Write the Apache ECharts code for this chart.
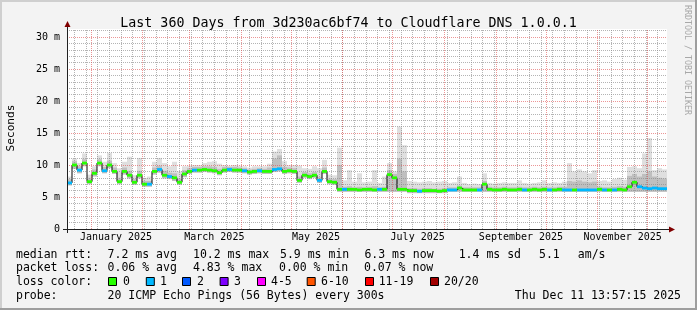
<!DOCTYPE html>
<html><head><meta charset="utf-8">
<script src="https://cdn.jsdelivr.net/npm/echarts@6/dist/echarts.min.js"></script>
<style>html,body{margin:0;padding:0;background:#f3f3f3}#c{width:697px;height:310px}</style>
</head><body><div id="c"></div><script>
// 3-day buckets from mid-Dec 2024 to mid-Dec 2025 (values in ms)
const median = [
 7.2,10.0,9.2,10.3,7.4,8.7,10.3,9.1,10.0,9.0,
 7.4,9.0,8.4,7.3,8.4,7.0,7.0,9.0,9.3,8.4,
 8.2,8.0,7.3,8.6,9.0,9.2,9.2,9.3,9.2,9.1,
 8.8,9.2,9.3,9.2,9.2,9.1,8.9,9.0,9.1,9.0,
 9.0,9.3,9.4,9.0,9.1,9.0,7.6,8.4,8.2,8.4,
 7.6,9.0,7.4,7.3,6.2,6.2,6.2,6.2,6.1,6.2,
 6.2,6.1,6.2,6.2,8.5,8.0,6.2,6.2,6.0,6.0,
 5.9,6.0,6.0,6.0,5.9,6.0,6.1,6.1,6.4,6.1,
 6.1,6.1,6.1,7.0,6.2,6.1,6.1,6.2,6.1,6.1,
 6.2,6.1,6.1,6.2,6.1,6.2,6.1,6.1,6.2,6.1,
 6.1,6.1,6.1,6.1,6.1,6.1,6.2,6.1,6.1,6.1,
 6.2,6.1,6.6,7.3,6.6,6.4,6.3,6.4,6.3,6.3];
const smokeHigh = [
 8.2,11.0,10.3,11.8,8.5,9.8,11.5,10.5,11.9,10.3,
 9.5,10.5,11.3,8.4,11.1,8.0,8.2,10.5,11.1,10.3,
 9.8,10.5,9.0,9.8,9.9,10.0,10.0,10.3,10.5,10.6,
 10.2,10.0,9.9,10.0,9.9,9.8,9.6,9.8,9.8,9.8,
 10.2,12.1,12.5,10.6,10.0,10.0,9.9,9.5,9.4,9.8,
 9.5,10.8,8.5,8.4,12.7,7.6,9.2,7.4,8.7,7.3,
 7.4,9.2,7.2,8.2,10.3,9.0,16.0,13.1,7.5,7.4,
 7.3,7.4,7.5,7.3,7.4,7.5,7.2,7.3,8.2,7.2,
 7.0,7.1,7.0,8.7,7.2,7.1,7.2,7.3,7.2,7.2,
 7.6,7.2,7.1,7.2,7.3,7.6,7.2,7.3,7.2,7.4,
 10.3,9.0,9.3,9.0,8.7,9.2,7.5,7.6,7.4,7.8,
 8.0,7.7,9.7,9.8,9.5,11.8,14.2,9.2,9.5,9.3];
const smokeDark = [
 7.8,10.6,9.8,10.9,8.0,9.3,10.9,9.7,10.7,9.6,
 8.0,9.6,9.1,7.8,9.1,7.5,7.5,9.6,9.9,9.1,
 8.8,8.7,7.9,9.2,9.5,9.7,9.7,9.8,9.8,9.7,
 9.4,9.7,9.7,9.7,9.6,9.5,9.3,9.4,9.5,9.4,
 9.6,11.0,11.5,9.7,9.6,9.5,8.2,8.9,8.7,8.9,
 8.1,9.6,7.9,7.8,10.0,6.6,6.7,6.5,6.6,6.5,
 6.6,6.7,6.5,6.6,9.2,8.6,11.0,9.0,6.4,6.4,
 6.3,6.4,6.4,6.3,6.3,6.4,6.5,6.5,6.8,6.5,
 6.5,6.5,6.5,7.5,6.6,6.5,6.5,6.6,6.5,6.5,
 6.6,6.5,6.5,6.6,6.5,6.6,6.5,6.5,6.6,6.6,
 7.5,7.4,7.6,7.4,7.3,7.4,6.6,6.5,6.5,6.6,
 6.7,6.6,8.3,8.6,8.2,8.6,9.0,8.2,8.0,7.9];
const smokeLow = [
 6.8,9.4,8.7,9.8,7.0,8.2,9.8,8.7,9.5,8.6,
 7.0,8.5,7.9,6.9,7.9,6.6,6.6,8.5,8.8,7.9,
 7.8,7.5,6.9,8.1,8.6,8.8,8.8,8.9,8.8,8.7,
 8.4,8.8,8.9,8.8,8.8,8.7,8.5,8.6,8.7,8.6,
 8.6,8.9,9.0,8.6,8.7,8.6,7.2,8.0,7.8,8.0,
 7.2,8.6,7.0,6.9,5.8,5.8,5.8,5.8,5.8,5.8,
 5.8,5.8,5.8,5.8,5.8,5.8,5.8,5.8,5.6,5.6,
 5.6,5.6,5.6,5.6,5.6,5.6,5.8,5.8,5.8,5.8,
 5.8,5.8,5.8,5.8,5.8,5.8,5.8,5.8,5.8,5.8,
 5.8,5.8,5.8,5.8,5.8,5.8,5.8,5.8,5.8,5.8,
 5.8,5.8,5.8,5.8,5.8,5.8,5.8,5.8,5.8,5.8,
 5.8,5.8,5.8,5.8,5.8,5.8,5.8,5.8,5.8,5.8];
const lossIdx = [
 1,0,1,0,0,0,0,1,0,0, 0,0,0,0,0,0,1,0,1,0, 1,0,0,0,0,1,0,0,0,0,
 0,0,1,0,0,1,0,0,1,0, 0,1,1,0,0,0,0,0,0,0, 1,0,0,0,0,1,0,0,0,0,
 0,0,1,0,0,0,0,0,0,0, 1,0,0,0,0,0,1,1,0,0, 0,0,1,0,0,0,0,0,0,0,
 0,1,0,0,0,0,1,0,0,1, 1,0,1,1,1,1,0,1,0,1, 0,0,0,0,1,1,1,1,1,1];
const lossColors = ['#26ff00','#00b8ff','#0059ff','#7e00ff','#ff00ff','#ff5500','#ff0000','#a10000'];
const lossLabels = ['0','1','2','3','4-5','6-10','11-19','20/20'];
// time axis in days since 2025-01-01
const monthStarts = [0,31,59,90,120,151,181,212,243,273,304,334];
const monthLabelDays = [15,74,135,196,258,319];
const monthLabelText = ['January 2025','March 2025','May 2025','July 2025','September 2025','November 2025'];
const firstSunday = -10;
const xMin = -14.4, xMax = 345.6;
const yMax = 31.25;
const yTicks = [0,5,10,15,20,25,30];

const categories = median.map((_, i) => String(i));
const labelMap = {};
monthLabelDays.forEach((d, i) => labelMap[d] = monthLabelText[i]);

const grayLine = {color: 'rgba(140,140,140,0.65)', type: [1,1], width: 1};
const redLine = {color: 'rgba(224,80,80,0.6)', type: [1,1], width: 1};
const ml = [];
for (let d = firstSunday; d < xMax; d += 7) ml.push({xAxis: d, lineStyle: grayLine});
for (let v = 1; v < yMax; v++) if (v % 5) ml.push({yAxis: v, lineStyle: grayLine});
monthStarts.forEach(d => ml.push({xAxis: d, lineStyle: redLine}));
yTicks.slice(1).forEach(v => ml.push({yAxis: v, lineStyle: redLine}));

const L = 67, T = 29, W = 600, H = 200;
const mono = '"DejaVu Sans Mono", monospace';
const lf = '11.5px ' + mono;
const barCommon = {type: 'bar', barGap: '-100%', barCategoryGap: '0%', xAxisIndex: 0, yAxisIndex: 0, silent: true};

const graphic = [
  {type: 'rect', shape: {x: 0, y: 0, width: 697, height: 2}, style: {fill: '#cfcfcf'}},
  {type: 'rect', shape: {x: 0, y: 0, width: 2, height: 310}, style: {fill: '#cfcfcf'}},
  {type: 'rect', shape: {x: 695, y: 0, width: 2, height: 310}, style: {fill: '#9e9e9e'}},
  {type: 'rect', shape: {x: 0, y: 308, width: 697, height: 2}, style: {fill: '#9e9e9e'}},
  {type: 'line', shape: {x1: L - 4, y1: T + H + 0.5, x2: L + W + 3, y2: T + H + 0.5}, style: {stroke: '#202020', lineWidth: 1}, z: 50},
  {type: 'line', shape: {x1: L + 0.5, y1: T + H + 4, x2: L + 0.5, y2: T - 3}, style: {stroke: '#202020', lineWidth: 1}, z: 50},
  {type: 'polygon', shape: {points: [[L + W + 2, T + H - 2.5], [L + W + 8, T + H + 0.5], [L + W + 2, T + H + 3.5]]}, style: {fill: '#800000'}, z: 51},
  {type: 'polygon', shape: {points: [[L - 2.5, T - 2], [L + 0.5, T - 8], [L + 3.5, T - 2]]}, style: {fill: '#800000'}, z: 51},
  {type: 'text', x: 11, y: 128, rotation: Math.PI / 2, style: {text: 'Seconds', font: '11.2px ' + mono, fill: '#000', textAlign: 'center', textVerticalAlign: 'middle'}},
  {type: 'text', x: 687, y: 60, rotation: -Math.PI / 2, style: {text: 'RRDTOOL / TOBI OETIKER', font: '8.3px ' + mono, fill: '#a8a8a8', textAlign: 'center', textVerticalAlign: 'middle'}}
];
function txt(s, x, y, align) {
  graphic.push({type: 'text', x: x, y: y, style: {text: s, font: lf, fill: '#000', textAlign: align || 'left', textVerticalAlign: 'middle'}});
}
const r1 = 255, r2 = 268.5, r3 = 282, r4 = 296;
txt('median rtt:', 16, r1); txt('7.2 ms avg', 107.6, r1); txt('10.2 ms max', 193, r1);
txt('5.9 ms min', 280, r1); txt('6.3 ms now', 364.4, r1); txt('1.4 ms sd', 458.7, r1);
txt('5.1', 539, r1); txt('am/s', 577.8, r1);
txt('packet loss:', 16, r2); txt('0.06 % avg', 107.6, r2); txt('4.83 % max', 193, r2);
txt('0.00 % min', 279, r2); txt('0.07 % now', 364, r2);
txt('loss color:', 16, r3);
const boxX = [108, 145.8, 182, 219.6, 257, 306.7, 365, 430];
const boxLabelX = [123, 160, 197, 234, 271, 321, 378.7, 444];
lossLabels.forEach((s, i) => {
  graphic.push({type: 'rect', shape: {x: boxX[i] + 0.5, y: r3 - 4.5, width: 8, height: 8}, style: {fill: lossColors[i], stroke: '#000', lineWidth: 1}});
  txt(s, boxLabelX[i], r3);
});
txt('probe:', 16, r4); txt('20 ICMP Echo Pings (56 Bytes) every 300s', 107.6, r4);
txt('Thu Dec 11 13:57:15 2025', 681, r4, 'right');

const chart = echarts.init(document.getElementById('c'), null, {renderer: 'canvas'});
chart.setOption({
  animation: false,
  backgroundColor: '#f3f3f3',
  title: {text: 'Last 360 Days from 3d230ac6bf74 to Cloudflare DNS 1.0.0.1', left: 'center', top: 12,
    textStyle: {fontFamily: mono, fontSize: 13.3, fontWeight: 'normal', color: '#000'}},
  grid: {left: L, top: T, width: W, height: H, show: true, backgroundColor: '#fff', borderWidth: 0},
  xAxis: [
    {type: 'category', data: categories, show: false, boundaryGap: true},
    {type: 'value', position: 'bottom', min: xMin, max: xMax, axisLine: {show: false}, axisTick: {show: false}, splitLine: {show: false},
     axisLabel: {customValues: monthLabelDays, formatter: v => labelMap[v] || '', fontFamily: mono, fontSize: 10, color: '#000', margin: 3}}
  ],
  yAxis: {type: 'value', min: 0, max: yMax, interval: 5, axisLine: {show: false}, axisTick: {show: false}, splitLine: {show: false},
    axisLabel: {formatter: v => v === 0 ? '0' : (v % 5 === 0 ? v + ' m' : ''), fontFamily: mono, fontSize: 10, color: '#000', margin: 7}},
  graphic: graphic,
  series: [
    {type: 'line', xAxisIndex: 1, yAxisIndex: 0, data: [], z: 1, silent: true,
     markLine: {symbol: ['none', 'none'], silent: true, animation: false, label: {show: false}, data: ml}},
    Object.assign({}, barCommon, {stack: 'outer', z: 2, data: smokeLow, itemStyle: {color: 'rgba(0,0,0,0)'}}),
    Object.assign({}, barCommon, {stack: 'outer', z: 2, data: smokeHigh.map((h, i) => +(h - smokeLow[i]).toFixed(2)), itemStyle: {color: 'rgba(150,150,150,0.3)'}}),
    Object.assign({}, barCommon, {stack: 'dark', z: 3, data: smokeLow, itemStyle: {color: 'rgba(0,0,0,0)'}}),
    Object.assign({}, barCommon, {stack: 'dark', z: 3, data: smokeDark.map((h, i) => +(h - smokeLow[i]).toFixed(2)), itemStyle: {color: 'rgba(120,120,120,0.3)'}}),
    {type: 'line', xAxisIndex: 0, yAxisIndex: 0, data: median, step: 'middle', symbol: 'none', z: 4, silent: true,
     lineStyle: {color: '#000', width: 1}},
    Object.assign({}, barCommon, {stack: 'loss', z: 5, data: median.map(m => +(m - 0.22).toFixed(2)), itemStyle: {color: 'rgba(0,0,0,0)'}}),
    Object.assign({}, barCommon, {stack: 'loss', z: 5, data: lossIdx.map(k => ({value: 0.44, itemStyle: {color: lossColors[k]}}))})
  ]
});
</script></body></html>
